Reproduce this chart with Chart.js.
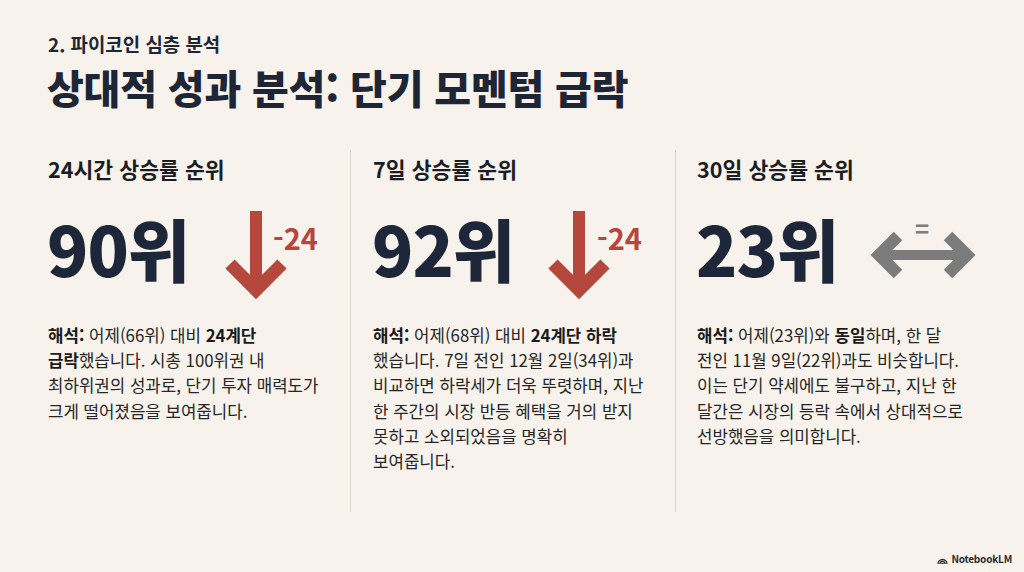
<!DOCTYPE html>
<html lang="ko">
<head>
<meta charset="utf-8">
<script src="https://cdn.jsdelivr.net/npm/chart.js@4.4.1/dist/chart.umd.min.js"></script>
<style>
  html, body { margin: 0; padding: 0; }
  body {
    width: 1024px; height: 572px; overflow: hidden; position: relative;
    background: #f7f2ec;
    font-family: "Noto Sans CJK KR", "Noto Sans", sans-serif;
    color: #1f2633;
  }
  .abs { position: absolute; white-space: nowrap; }
  #sub { left: 48px; top: 34px; font-size: 18.9px; line-height: 19px; font-weight: 700; color: #1f2633; }
  #title { left: 47px; top: 67px; font-size: 40px; line-height: 41px; font-weight: 900; color: #1e2535; letter-spacing: -0.2px; }
  .head { top: 158px; font-size: 21.6px; line-height: 22px; font-weight: 700; color: #1a1d24; }
  .big { top: 214px; font-size: 68px; line-height: 68px; font-weight: 900; color: #1d2739; letter-spacing: -1px; }
  .chg { top: 223px; font-size: 29px; line-height: 29px; font-weight: 700; color: #b5473d; }
  .eq { font-size: 24px; line-height: 24px; font-weight: 700; color: #7c7c7c; }
  .note { top: 323px; font-size: 16.8px; line-height: 25.2px; color: #262626; }
  .note b { font-weight: 700; color: #1a1a1a; }
  .divider { position: absolute; top: 150px; width: 1px; height: 362px; background: #ddd6cd; }
  .icon { position: absolute; }
  #brand { right: 12px; top: 553px; font-size: 10px; line-height: 12px; font-weight: 700; color: #2a2a2a; display: flex; align-items: center; gap: 3px; letter-spacing: -0.2px; }
</style>
</head>
<body>
<div id="sub" class="abs">2. 파이코인 심층 분석</div>
<div id="title" class="abs">상대적 성과 분석: 단기 모멘텀 급락</div>

<div class="divider" style="left:350px"></div>
<div class="divider" style="left:675px"></div>

<div id="cols"></div>

<div id="brand" class="abs">
  <svg width="11" height="9" viewBox="0 0 12 10"><path d="M1 10 A5 5 0 0 1 11 10 M3.2 10 A2.8 2.8 0 0 1 8.8 10 M5.2 10 A0.8 0.8 0 0 1 6.8 10" stroke="#2a2a2a" stroke-width="1.4" fill="none"/></svg>
  <span>NotebookLM</span>
</div>

<script>
// ---- data ----
const periods = ['24시간', '7일', '30일'];
const ranks = [90, 92, 23];
const prevRanks = [66, 68, 23];
const changes = [-24, -24, 0];
const notes = [
  '<b>해석:</b> 어제(' + prevRanks[0] + '위) 대비 <b>24계단</b><br><b>급락</b>했습니다. 시총 100위권 내<br>최하위권의 성과로, 단기 투자 매력도가<br>크게 떨어졌음을 보여줍니다.',
  '<b>해석:</b> 어제(' + prevRanks[1] + '위) 대비 <b>24계단 하락</b><br>했습니다. 7일 전인 12월 2일(34위)과<br>비교하면 하락세가 더욱 뚜렷하며, 지난<br>한 주간의 시장 반등 혜택을 거의 받지<br>못하고 소외되었음을 명확히<br>보여줍니다.',
  '<b>해석:</b> 어제(' + prevRanks[2] + '위)와 <b>동일</b>하며, 한 달<br>전인 11월 9일(22위)과도 비슷합니다.<br>이는 단기 약세에도 불구하고, 지난 한<br>달간은 시장의 등락 속에서 상대적으로<br>선방했음을 의미합니다.'
];

// ---- layout (styles only) ----
const colLeft = [48, 373, 697];
const iconBox = [
  { left: 206, top: 206, w: 100, h: 100 },
  { left: 529, top: 206, w: 100, h: 100 },
  { left: 858, top: 220, w: 130, h: 70 }
];
const chgLeft = [273, 597];
const RED = '#b5473d', GRAY = '#7c7c7c';

// ---- icons used as Chart.js point styles ----
function downArrowIcon(color) {
  const c = document.createElement('canvas');
  c.width = 66; c.height = 90;
  const g = c.getContext('2d');
  g.fillStyle = color; g.strokeStyle = color;
  g.fillRect(27, 0, 12, 80);
  g.lineWidth = 13; g.lineJoin = 'miter'; g.lineCap = 'butt';
  g.beginPath(); g.moveTo(7, 53); g.lineTo(33, 79); g.lineTo(59, 53); g.stroke();
  return c;
}
function doubleArrowIcon(color) {
  const c = document.createElement('canvas');
  c.width = 106; c.height = 48;
  const g = c.getContext('2d');
  g.fillStyle = color; g.strokeStyle = color;
  g.fillRect(9, 19, 88, 10);
  g.lineWidth = 12; g.lineJoin = 'miter'; g.lineCap = 'butt';
  g.beginPath(); g.moveTo(28, 5); g.lineTo(9, 24); g.lineTo(28, 43); g.stroke();
  g.beginPath(); g.moveTo(78, 5); g.lineTo(97, 24); g.lineTo(78, 43); g.stroke();
  return c;
}

// ---- build columns ----
const cols = document.getElementById('cols');
periods.forEach((p, i) => {
  const h = document.createElement('div');
  h.className = 'abs head'; h.style.left = colLeft[i] + 'px';
  h.textContent = p + ' 상승률 순위';
  cols.appendChild(h);

  const b = document.createElement('div');
  b.className = 'abs big'; b.style.left = (colLeft[i] - 1) + 'px';
  b.textContent = ranks[i] + '위';
  cols.appendChild(b);

  const n = document.createElement('div');
  n.className = 'abs note'; n.style.left = colLeft[i] + 'px';
  n.innerHTML = notes[i];
  cols.appendChild(n);

  if (changes[i] !== 0) {
    const c = document.createElement('div');
    c.className = 'abs chg'; c.style.left = chgLeft[i] + 'px';
    c.textContent = String(changes[i]);
    cols.appendChild(c);
  } else {
    const e = document.createElement('div');
    e.className = 'abs eq'; e.style.left = '915px'; e.style.top = '216px';
    e.textContent = '=';
    cols.appendChild(e);
  }

  const box = iconBox[i];
  const cv = document.createElement('canvas');
  cv.className = 'icon';
  cv.width = box.w; cv.height = box.h;
  cv.style.left = box.left + 'px'; cv.style.top = box.top + 'px';
  cv.style.width = box.w + 'px'; cv.style.height = box.h + 'px';
  cols.appendChild(cv);

  const neg = changes[i] < 0;
  const flat = changes[i] === 0;
  const style = flat ? doubleArrowIcon(GRAY) : downArrowIcon(RED);
  new Chart(cv, {
    type: 'scatter',
    data: {
      datasets: [{
        data: [{ x: 0, y: changes[i] }],
        pointStyle: style,
        rotation: flat ? 0 : (neg ? 0 : 180),
        pointRadius: 10,
        pointHoverRadius: 10,
        clip: false
      }]
    },
    options: {
      responsive: false,
      animation: false,
      events: [],
      layout: { padding: 0 },
      plugins: { legend: { display: false }, tooltip: { enabled: false } },
      scales: {
        x: { display: false, min: -1, max: 1 },
        y: { display: false, min: changes[i] - 1, max: changes[i] + 1 }
      }
    }
  });
});
</script>
</body>
</html>
